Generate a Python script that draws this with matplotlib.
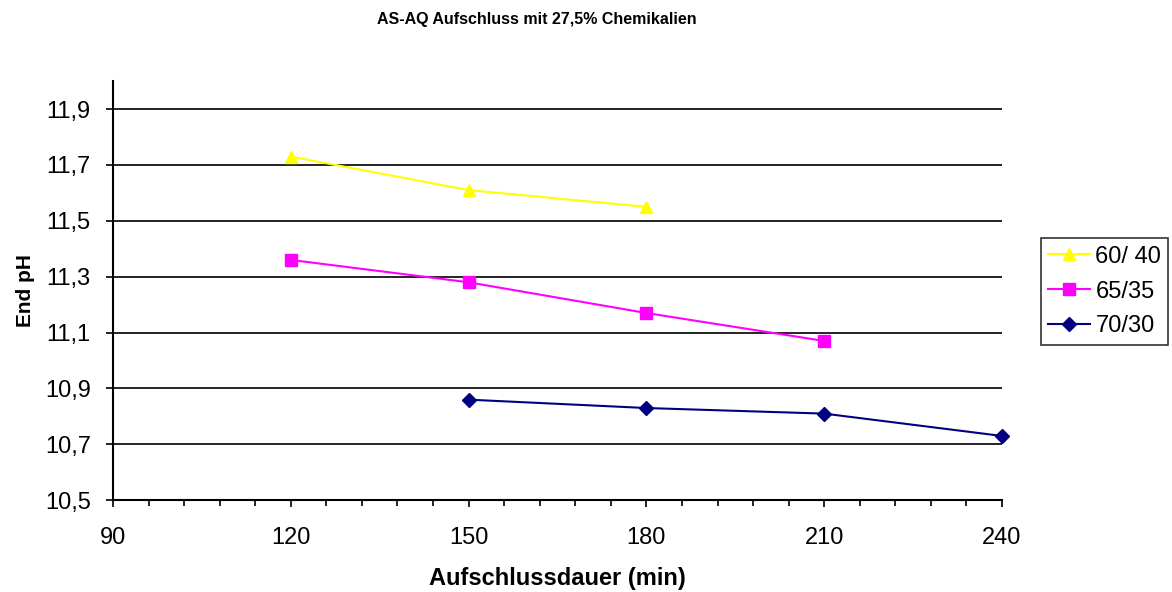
import matplotlib
matplotlib.use("Agg")
import matplotlib.pyplot as plt
from matplotlib.ticker import MultipleLocator, FuncFormatter

plt.rcParams['font.family'] = ['Liberation Sans', 'DejaVu Sans']

# data
x_6040 = [120, 150, 180]
ph_6040 = [11.73, 11.61, 11.55]
x_6535 = [120, 150, 180, 210]
ph_6535 = [11.36, 11.28, 11.17, 11.07]
x_7030 = [150, 180, 210, 240]
ph_7030 = [10.86, 10.83, 10.81, 10.73]
labels = ['60/ 40', '65/35', '70/30']

fig = plt.figure(figsize=(11.72, 5.92), dpi=100)
ax = fig.add_axes([0.0964, 0.155, 0.7586, 0.708])

ax.plot(x_6040, ph_6040, color='#FFFF00', marker='^', markersize=9, lw=1.5, label=labels[0], clip_on=False)
ax.plot(x_6535, ph_6535, color='#FF00FF', marker='s', markersize=9, lw=1.5, label=labels[1], clip_on=False)
ax.plot(x_7030, ph_7030, color='#000080', marker='D', markersize=7, lw=1.5, label=labels[2], clip_on=False)

ax.set_xlim(90, 240)
ax.set_ylim(10.5, 12.0)
ax.xaxis.set_major_locator(MultipleLocator(30))
ax.xaxis.set_minor_locator(MultipleLocator(6))
ax.set_yticks([10.5, 10.7, 10.9, 11.1, 11.3, 11.5, 11.7, 11.9])
ax.yaxis.set_major_formatter(FuncFormatter(lambda v, p: f"{v:.1f}".replace('.', ',')))
ax.yaxis.grid(True, color='black', lw=1.2)
ax.set_axisbelow(True)

for s in ['top', 'right']:
    ax.spines[s].set_visible(False)
ax.spines['left'].set_linewidth(1.5)
ax.spines['bottom'].set_linewidth(1.5)
ax.tick_params(axis='both', which='major', direction='out', length=5, width=1.2, labelsize=17)
ax.tick_params(axis='y', which='major', pad=11)
ax.tick_params(axis='x', which='major', pad=14)
ax.tick_params(axis='x', which='minor', direction='out', length=4, width=1.2)

ax.set_xlabel('Aufschlussdauer (min)', fontsize=17, fontweight='bold', labelpad=13)
ax.set_ylabel('End pH', fontsize=15, fontweight='bold', labelpad=7)
fig.text(0.458, 0.967, 'AS-AQ Aufschluss mit 27,5% Chemikalien', ha='center', va='center',
         fontsize=11.5, fontweight='bold')

leg = ax.legend(loc='center left', bbox_to_anchor=(1.044, 0.498), fontsize=17, frameon=True,
                fancybox=False, edgecolor='black', handlelength=1.75, borderpad=0.3,
                labelspacing=0.55, handletextpad=0.25, borderaxespad=0)
leg.get_frame().set_linewidth(1.2)

fig.savefig('out.png', dpi=100)
